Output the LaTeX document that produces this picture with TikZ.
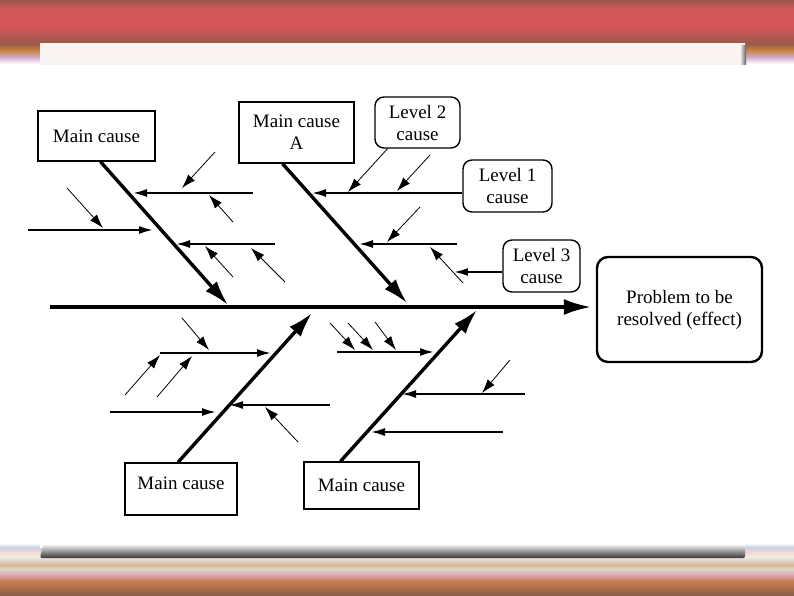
\documentclass[tikz,border=0pt]{standalone}
\usepackage{fontspec}
\setmainfont{Liberation Serif}
\usetikzlibrary{arrows.meta}
\definecolor{rbrown}{HTML}{985A4A}
\definecolor{rred}{HTML}{D25558}
\definecolor{rorange}{HTML}{C7823F}
\definecolor{rlav}{HTML}{D2AACB}
\definecolor{pcreamA}{HTML}{FBF4EF}
\definecolor{pcreamB}{HTML}{F8F2F1}
\definecolor{sA}{HTML}{C8D2E6}
\definecolor{sB}{HTML}{EED2D6}
\definecolor{sC}{HTML}{F2EEDC}
\definecolor{sD}{HTML}{E6D6D6}
\definecolor{sE}{HTML}{D9B894}
\definecolor{sF}{HTML}{DCD8C6}
\definecolor{sG}{HTML}{D8A6B2}
\definecolor{sH}{HTML}{C77E4E}
\definecolor{sI}{HTML}{8C5E46}
\definecolor{shadowdark}{HTML}{363636}
\begin{document}
\begin{tikzpicture}[x=1pt,y=-1pt,
  box/.style={draw,line width=1.4pt,align=center,inner sep=0pt,font=\fontsize{19}{22}\selectfont},
  rbox/.style={box,rounded corners=9pt},
  spine/.style={line width=4pt,-{Latex[length=28pt,width=16pt]}},
  bone/.style={line width=3.4pt,-{Latex[length=25pt,width=15pt]}},
  sub/.style={line width=1.9pt,-{Latex[length=14pt,width=8pt]}},
  tiny/.style={line width=0.8pt,-{Latex[length=14pt,width=9pt]}}]
\useasboundingbox (0,0) rectangle (794,595);
% ---------- background ----------
\fill[white] (0,0) rectangle (794,595);
\shade[top color=rbrown,bottom color=rred] (0,0) rectangle (794,9);
\fill[rred] (0,9) rectangle (794,28);
\shade[top color=rred,bottom color=rbrown] (0,28) rectangle (794,44);
\shade[top color=rbrown,bottom color=rorange] (0,44) rectangle (794,50);
\shade[top color=rorange,bottom color=rlav] (0,50) rectangle (794,57);
\shade[top color=rlav,bottom color=white] (0,57) rectangle (794,64);
\shade[top color=white,bottom color=sA] (0,543) rectangle (794,547);
\shade[top color=sA,bottom color=sB] (0,547) rectangle (794,551);
\shade[top color=sB,bottom color=sC] (0,551) rectangle (794,556);
\shade[top color=sC,bottom color=sD] (0,556) rectangle (794,560);
\shade[top color=sD,bottom color=sE] (0,560) rectangle (794,565);
\shade[top color=sE,bottom color=sF] (0,565) rectangle (794,569);
\shade[top color=sF,bottom color=sG] (0,569) rectangle (794,575);
\shade[top color=sG,bottom color=sH] (0,575) rectangle (794,581);
\shade[top color=sH,bottom color=sI] (0,581) rectangle (794,595);
% panel
\fill[white] (40,43) rectangle (745,548);
\shade[top color=pcreamA,bottom color=pcreamB] (40,43) rectangle (745,64);
\shade[left color=gray!30,right color=gray!75!black] (741,45) rectangle (746,64);
\shade[top color=gray!15,bottom color=shadowdark,rounded corners=2pt] (43,545) -- (745,545) -- (745,558) -- (40,558) -- cycle;
% ---------- nodes ----------
\node[box,minimum width=117pt,minimum height=50pt] (mc1) at (96.5,136) {Main cause};
\node[box,minimum width=115pt,minimum height=61pt] (mcA) at (296.5,132.5) {Main cause\\A};
\node[rbox,minimum width=85pt,minimum height=51pt] (l2) at (417.5,122.5) {Level 2\\cause};
\node[rbox,minimum width=89pt,minimum height=52pt] (l1) at (507.5,186) {Level 1\\cause};
\node[rbox,minimum width=77pt,minimum height=52pt] (l3) at (541.5,266) {Level 3\\cause};
\node[rbox,line width=2.4pt,rounded corners=11pt,minimum width=165pt,minimum height=105pt] (effect) at (679.5,309.5) {Problem to be\\resolved (effect)};
\node[box,minimum width=112pt,minimum height=52pt,text depth=12pt] (mcBL) at (181,489) {Main cause};
\node[box,minimum width=115pt,minimum height=47pt] (mcBR) at (361.5,485.5) {Main cause};
% ---------- spine ----------
\coordinate (tail) at (50,307);
\draw[spine,shorten >=4pt] (tail) -- (effect.west |- tail);
% ---------- top-left bone ----------
\coordinate (e1) at (228,305);
\draw[bone] ([xshift=4pt]mc1.south) -- (e1);
\draw[sub] (253,193) -- (133,193);
\draw[tiny] (215,152) -- (182,188);
\draw[tiny] (233,222) -- (209,195);
\draw[sub] (28,230) -- (153,230);
\draw[tiny] (67,188) -- (103,228);
\draw[sub] (275,244) -- (176,244);
\draw[tiny] (233,277) -- (205,246);
\draw[tiny] (285,282) -- (251,248);
% ---------- top bone A ----------
\coordinate (eA) at (407,303);
\draw[bone] ([xshift=-14pt]mcA.south) -- (eA);
\draw[tiny] ([xshift=-30pt]l2.south) -- (348,192);
\draw[sub] ([yshift=-7pt]l1.west) -- (312,193);
\draw[tiny] (430,155) -- (397,191);
\draw[sub] (457,244) -- (359,244);
\draw[tiny] (420,207) -- (387,242);
\draw[tiny] (463,283) -- (430,247);
\draw[sub] ([yshift=-6pt]l3.west) -- (454,272);
% ---------- bottom-left bone ----------
\coordinate (eBL) at (312,313);
\draw[bone] ([xshift=-3pt]mcBL.north) -- (eBL);
\draw[sub] (160,353) -- (271,353);
\draw[tiny] (182,318) -- (209,350);
\draw[tiny] (125,395) -- (160,355);
\draw[tiny] (157,397) -- (192,356);
\draw[sub] (110,412) -- (216,412);
\draw[sub] (330,405) -- (229,405);
\draw[tiny] (298,442) -- (265,407);
% ---------- bottom-right bone ----------
\coordinate (eBR) at (477,310);
\draw[bone] ([xshift=-21pt]mcBR.north) -- (eBR);
\draw[sub] (337,352) -- (434,352);
\draw[tiny] (330,323) -- (355,350);
\draw[tiny] (348,323) -- (373,350);
\draw[tiny] (375,322) -- (396,350);
\draw[sub] (525,394) -- (402,394);
\draw[tiny] (510,360) -- (482,393);
\draw[sub] (503,432) -- (371,432);
\end{tikzpicture}
\end{document}
